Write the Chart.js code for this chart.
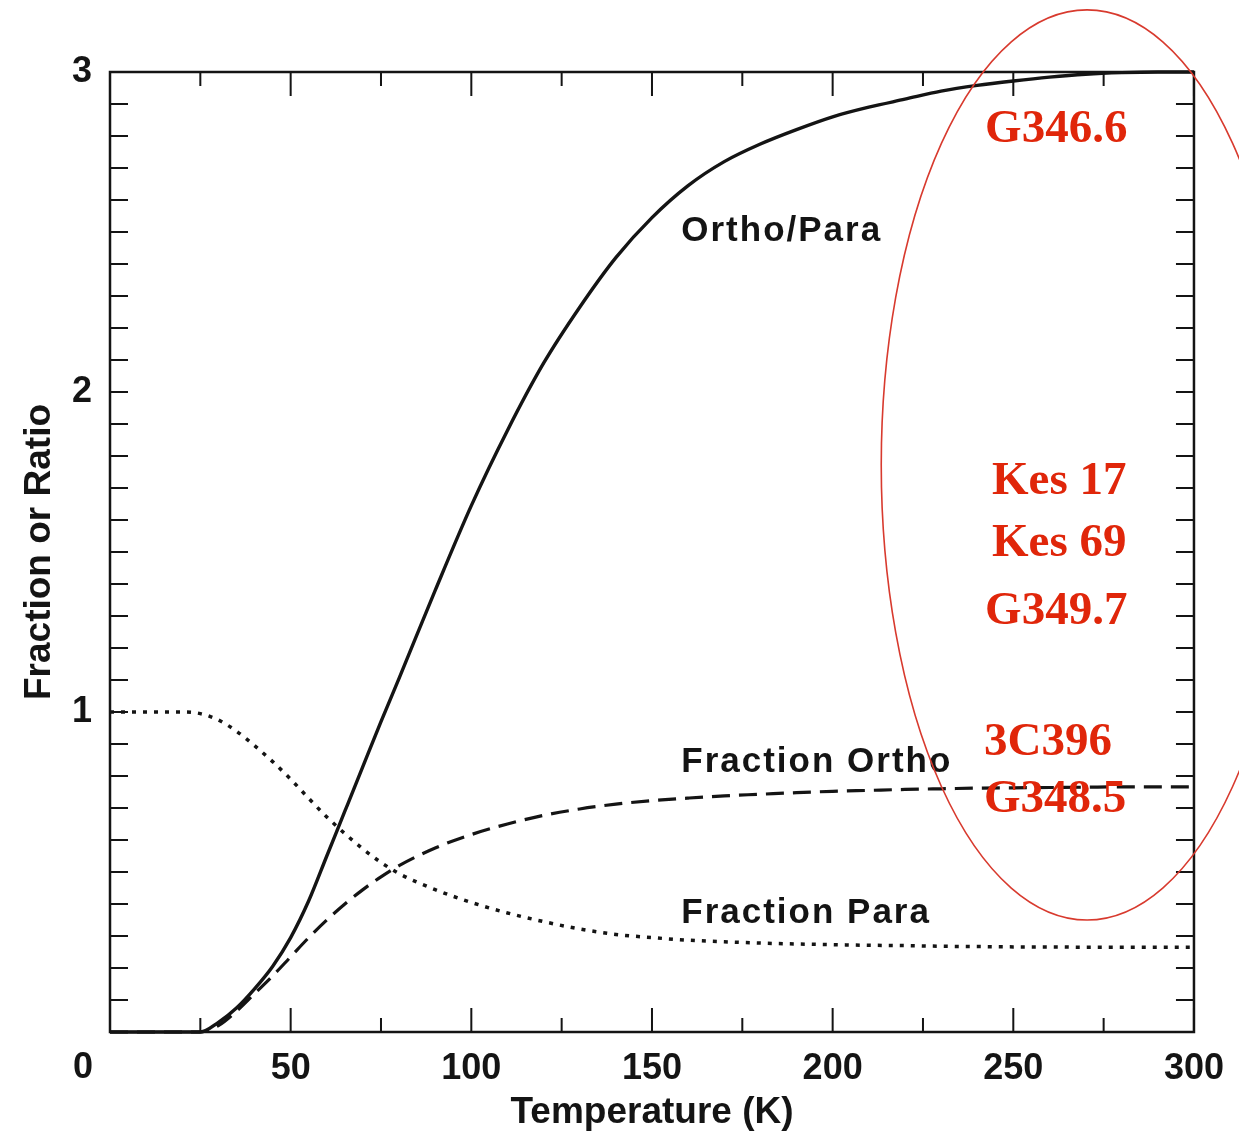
<!DOCTYPE html>
<html>
<head>
<meta charset="utf-8">
<script src="https://cdn.jsdelivr.net/npm/chart.js@4"></script>
<style>
  html, body { margin: 0; padding: 0; background: #ffffff; }
  #wrap { width: 1239px; height: 1132px; }
</style>
</head>
<body>
<div id="wrap"><canvas id="c" width="1239" height="1132"></canvas></div>
<script>
// ---- Data ----
const temps = [0, 10, 20, 25, 30, 35, 40, 45, 50, 55, 60, 65, 70, 75, 80, 90, 100, 110, 120, 130, 140, 150, 160, 170, 180, 190, 200, 210, 220, 230, 240, 250, 260, 270, 280, 290, 300];
const orthoParaRatio = [0, 0, 0, 0, 0.03, 0.075, 0.135, 0.205, 0.295, 0.41, 0.55, 0.69, 0.83, 0.97, 1.105, 1.38, 1.645, 1.88, 2.09, 2.265, 2.42, 2.545, 2.645, 2.72, 2.775, 2.82, 2.86, 2.89, 2.915, 2.94, 2.958, 2.972, 2.984, 2.993, 2.998, 3.0, 3.0];
const fractionOrtho = [0, 0, 0, 0, 0.02, 0.065, 0.12, 0.175, 0.235, 0.295, 0.35, 0.40, 0.445, 0.485, 0.52, 0.575, 0.617, 0.65, 0.677, 0.697, 0.712, 0.723, 0.731, 0.738, 0.743, 0.748, 0.752, 0.755, 0.758, 0.76, 0.762, 0.763, 0.764, 0.765, 0.766, 0.766, 0.766];
const fractionPara = [1.0, 1.0, 1.0, 0.995, 0.975, 0.94, 0.895, 0.845, 0.79, 0.73, 0.672, 0.62, 0.572, 0.53, 0.495, 0.445, 0.405, 0.372, 0.345, 0.322, 0.305, 0.295, 0.287, 0.282, 0.278, 0.275, 0.273, 0.271, 0.27, 0.268, 0.267, 0.266, 0.266, 0.265, 0.265, 0.265, 0.265];

const xTickValues = [0, 50, 100, 150, 200, 250, 300];
const yTickValues = [0, 1, 2, 3];

// Curve labels (data coordinates of left edge / baseline)
const curveLabels = [
  { text: 'Ortho/Para', t: 158.1, v: 2.473 },
  { text: 'Fraction Ortho', t: 158.1, v: 0.811 },
  { text: 'Fraction Para', t: 158.1, v: 0.342 }
];
// Red annotation labels
const redLabels = [
  { text: 'G346.6', t: 242.2, v: 2.781 },
  { text: 'Kes 17', t: 244.1, v: 1.681 },
  { text: 'Kes 69', t: 244.1, v: 1.4875 },
  { text: 'G349.7', t: 242.2, v: 1.275 },
  { text: '3C396', t: 241.9, v: 0.8656 },
  { text: 'G348.5', t: 241.9, v: 0.6875 }
];
// Red ellipse (data units)
const ellipse = { t: 270.4, v: 1.772, rt: 56.95, rv: 1.422 };

const INK = '#141414';
const RED = '#e0260a';

function pts(ys) { return temps.map((t, i) => ({ x: t, y: ys[i] })); }

const framePlugin = {
  id: 'frame',
  afterDatasetsDraw(chart) {
    const { ctx, chartArea: a, scales: { x, y } } = chart;
    ctx.save();
    ctx.strokeStyle = INK;
    ctx.lineWidth = 2.5;
    ctx.strokeRect(a.left, a.top, a.right - a.left, a.bottom - a.top);
    ctx.lineWidth = 2;
    for (let t = 0; t <= 300; t += 25) {
      const px = x.getPixelForValue(t);
      const len = (t % 50 === 0) ? 24 : 14;
      ctx.beginPath();
      ctx.moveTo(px, a.bottom); ctx.lineTo(px, a.bottom - len);
      ctx.moveTo(px, a.top); ctx.lineTo(px, a.top + len);
      ctx.stroke();
    }
    for (let k = 0; k <= 30; k++) {
      const py = y.getPixelForValue(k / 10);
      ctx.beginPath();
      ctx.moveTo(a.left, py); ctx.lineTo(a.left + 18, py);
      ctx.moveTo(a.right, py); ctx.lineTo(a.right - 18, py);
      ctx.stroke();
    }
    ctx.restore();
  },
  afterDraw(chart) {
    const { ctx, chartArea: a, scales: { x, y } } = chart;
    ctx.save();
    ctx.fillStyle = INK;
    ctx.font = 'bold 36px "Liberation Sans", Arial, sans-serif';
    ctx.textAlign = 'center';
    ctx.textBaseline = 'middle';
    ctx.fillText('0', a.left - 27, a.bottom + 36);

    ctx.font = 'bold 35px "Liberation Sans", Arial, sans-serif';
    ctx.textAlign = 'left';
    ctx.textBaseline = 'alphabetic';
    try { ctx.letterSpacing = '2px'; } catch (e) {}
    curveLabels.forEach(l => ctx.fillText(l.text, x.getPixelForValue(l.t), y.getPixelForValue(l.v)));
    try { ctx.letterSpacing = '0px'; } catch (e) {}

    ctx.fillStyle = RED;
    ctx.font = 'bold 47px "Liberation Serif", "Times New Roman", serif';
    redLabels.forEach(l => ctx.fillText(l.text, x.getPixelForValue(l.t), y.getPixelForValue(l.v)));

    const cx = x.getPixelForValue(ellipse.t);
    const cy = y.getPixelForValue(ellipse.v);
    const rx = Math.abs(x.getPixelForValue(ellipse.t + ellipse.rt) - cx);
    const ry = Math.abs(y.getPixelForValue(ellipse.v + ellipse.rv) - cy);
    ctx.strokeStyle = '#d83a2e';
    ctx.lineWidth = 1.6;
    ctx.beginPath();
    ctx.ellipse(cx, cy, rx, ry, 0, 0, Math.PI * 2);
    ctx.stroke();
    ctx.restore();
  }
};

new Chart(document.getElementById('c'), {
  type: 'line',
  data: {
    datasets: [
      { label: 'Ortho/Para', data: pts(orthoParaRatio), borderColor: INK, borderWidth: 3.4, pointRadius: 0, cubicInterpolationMode: 'monotone', fill: false, clip: false },
      { label: 'Fraction Ortho', data: pts(fractionOrtho), borderColor: INK, borderWidth: 3.2, borderDash: [18, 9], pointRadius: 0, cubicInterpolationMode: 'monotone', fill: false, clip: false },
      { label: 'Fraction Para', data: pts(fractionPara), borderColor: INK, borderWidth: 3.5, borderDash: [4, 7], pointRadius: 0, cubicInterpolationMode: 'monotone', fill: false, clip: false }
    ]
  },
  options: {
    responsive: false,
    animation: false,
    devicePixelRatio: 1,
    layout: { padding: { top: 72, right: 44, left: 0, bottom: 0 } },
    plugins: { legend: { display: false }, tooltip: { enabled: false } },
    scales: {
      x: {
        type: 'linear', min: 0, max: 300,
        afterBuildTicks: s => { s.ticks = xTickValues.map(v => ({ value: v })); },
        afterFit: s => { s.height = 100; },
        ticks: {
          callback: v => (v === 0 ? '' : String(v)),
          color: INK, padding: 15, maxRotation: 0, autoSkip: false,
          font: { family: '"Liberation Sans", Arial, sans-serif', size: 36, weight: 'bold' }
        },
        grid: { display: false, drawTicks: false },
        border: { display: false },
        title: {
          display: true, text: 'Temperature (K)', color: INK,
          padding: { top: 0, bottom: -3 },
          font: { family: '"Liberation Sans", Arial, sans-serif', size: 37, weight: 'bold' }
        }
      },
      y: {
        type: 'linear', min: 0, max: 3,
        afterBuildTicks: s => { s.ticks = yTickValues.map(v => ({ value: v })); },
        afterFit: s => { s.width = 110; },
        ticks: {
          callback: v => (v === 0 ? '' : String(v)),
          color: INK, padding: 18, autoSkip: false,
          font: { family: '"Liberation Sans", Arial, sans-serif', size: 36, weight: 'bold' }
        },
        grid: { display: false, drawTicks: false },
        border: { display: false },
        title: {
          display: true, text: 'Fraction or Ratio', color: INK,
          padding: { top: 18, bottom: 0 },
          font: { family: '"Liberation Sans", Arial, sans-serif', size: 37, weight: 'bold' }
        }
      }
    }
  },
  plugins: [framePlugin]
});
</script>
</body>
</html>
